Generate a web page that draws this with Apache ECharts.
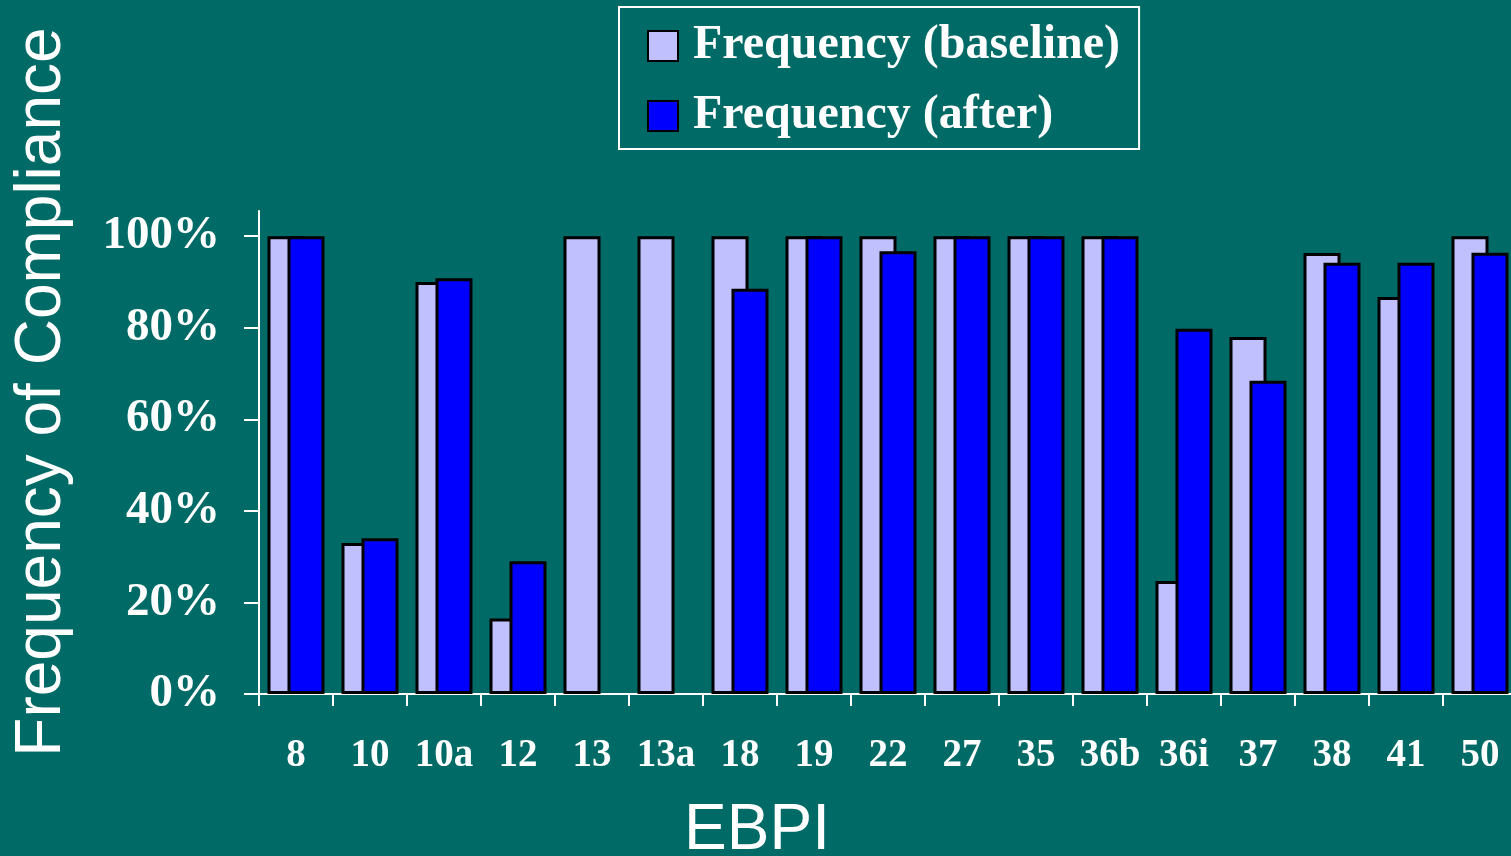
<!DOCTYPE html>
<html>
<head>
<meta charset="utf-8">
<title>Frequency of Compliance by EBPI</title>
<script src="https://cdn.jsdelivr.net/npm/echarts@6/dist/echarts.min.js"></script>
<style>
  html, body { margin: 0; padding: 0; background: #006a66; }
  #main { width: 1511px; height: 856px; }
</style>
</head>
<body>
<div id="main"></div>
<script>
// EBPI categories
var categories = ['8', '10', '10a', '12', '13', '13a', '18', '19', '22', '27', '35', '36b', '36i', '37', '38', '41', '50'];
// compliance (%) before and after
var baseline = [100, 33, 90, 16.5, 100, 100, 100, 100, 100, 100, 100, 100, 24.7, 78, 96.3, 86.7, 100];
var after    = [100, 34, 90.8, 29, null, null, 88.5, 100, 96.7, 100, 100, 100, 79.8, 68.4, 94.2, 94.2, 96.4];
var yTicks = [0, 20, 40, 60, 80, 100];

var serif = '"Liberation Serif", "Times New Roman", serif';
var sans = '"Liberation Sans", Arial, sans-serif';

var chart = echarts.init(document.getElementById('main'));
var option = {
    backgroundColor: '#006a66',
    animation: false,
    legend: {
        left: 619,
        top: 7,
        orient: 'vertical',
        padding: [13, 19, 7, 28],
        itemGap: 18,
        itemWidth: 30,
        itemHeight: 30,
        borderColor: '#ffffff',
        borderWidth: 2,
        icon: 'rect',
        textStyle: {
            color: '#ffffff',
            fontFamily: serif,
            fontWeight: 'bold',
            fontSize: 48,
            lineHeight: 52,
            padding: [0, 0, 0, 10]
        },
        data: ['Frequency (baseline)', 'Frequency (after)']
    },
    grid: {
        left: 259,
        width: 1258,
        top: 211,
        bottom: 162,
        outerBoundsMode: 'none'
    },
    xAxis: {
        type: 'category',
        data: categories,
        axisLine: { lineStyle: { color: '#ffffff', width: 2 } },
        axisTick: { show: true, length: 12, lineStyle: { color: '#ffffff', width: 2 } },
        axisLabel: {
            color: '#ffffff',
            fontFamily: serif,
            fontWeight: 'bold',
            fontSize: 39,
            margin: 42,
            interval: 0
        },
        splitLine: { show: false }
    },
    yAxis: {
        type: 'value',
        min: 0,
        max: 105.5,
        axisLine: { show: true, lineStyle: { color: '#ffffff', width: 2 } },
        axisTick: { show: true, length: 15, customValues: yTicks, lineStyle: { color: '#ffffff', width: 2 } },
        axisLabel: {
            customValues: yTicks,
            formatter: '{value}%',
            color: '#ffffff',
            fontFamily: serif,
            fontWeight: 'bold',
            fontSize: 47,
            margin: 39
        },
        splitLine: { show: false }
    },
    graphic: [
        {
            type: 'text',
            x: 42,
            y: 392,
            rotation: Math.PI / 2,
            style: {
                text: 'Frequency of Compliance',
                fill: '#ffffff',
                font: '64px ' + sans,
                textAlign: 'center',
                textVerticalAlign: 'middle'
            }
        },
        {
            type: 'text',
            x: 757,
            y: 831,
            style: {
                text: 'EBPI',
                fill: '#ffffff',
                font: '64px ' + sans,
                textAlign: 'center',
                textVerticalAlign: 'middle'
            }
        }
    ],
    series: [
        {
            name: 'Frequency (baseline)',
            type: 'bar',
            data: baseline,
            barWidth: 37,
            barGap: '-46%',
            itemStyle: { color: '#c0c0ff', borderColor: '#000000', borderWidth: 3 }
        },
        {
            name: 'Frequency (after)',
            type: 'bar',
            data: after,
            barWidth: 37,
            barGap: '-46%',
            itemStyle: { color: '#0000ff', borderColor: '#000000', borderWidth: 3 }
        }
    ]
};
chart.setOption(option);
</script>
</body>
</html>
